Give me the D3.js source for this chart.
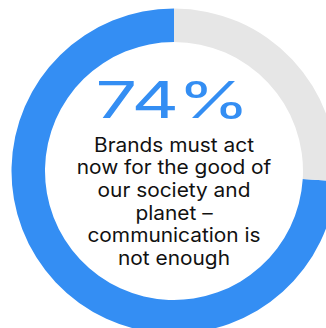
<!DOCTYPE html>
<html>
<head>
<meta charset="utf-8">
<script src="https://cdn.jsdelivr.net/npm/d3@7"></script>
<style>
  html, body { margin: 0; padding: 0; background: #fff; overflow: hidden; }
</style>
</head>
<body>
<div id="chart"></div>
<script>
const width = 326
const height = 328

// data
const categories = ["Agree", "Rest"]
const values = [74, 26]
const colors = ["#348ef3", "#e6e6e6"]
const headline = "74%"
const captionLines = [
  "Brands must act",
  "now for the good of",
  "our society and",
  "planet \u2013",
  "communication is",
  "not enough"
]

const cx = 174
const cy = 171
const outerR = 162.5
const innerR = 129

const svg = d3.select("#chart")
  .append("svg")
  .attr("width", width)
  .attr("height", height)

const g = svg.append("g")
  .attr("transform", `translate(${cx},${cy})`)

// blue share runs counter-clockwise from 12 o'clock, grey fills the rest
const angle = d3.scaleLinear()
  .domain([0, d3.sum(values)])
  .range([0, 2 * Math.PI])

const arcs = [
  { key: categories[0], startAngle: -angle(values[0]), endAngle: 0 },
  { key: categories[1], startAngle: 0, endAngle: angle(values[1]) }
]

const arcGen = d3.arc()
  .innerRadius(innerR)
  .outerRadius(outerR)

g.selectAll("path.slice")
  .data(arcs)
  .join("path")
  .attr("class", "slice")
  .attr("d", arcGen)
  .attr("fill", (d, i) => colors[i])

// wide display figure: stretch the glyphs instead of the spacing
const big = g.append("g")
const bigText = big.append("text")
  .attr("x", 0)
  .attr("y", 118 - cy)
  .attr("text-anchor", "middle")
  .attr("font-family", "Inter, 'DejaVu Sans', sans-serif")
  .attr("font-size", 51)
  .attr("font-weight", 400)
  .attr("fill", colors[0])
  .attr("letter-spacing", -1)
  .text(headline)
const natural = bigText.node().getComputedTextLength()
big.attr("transform", `translate(-2,0) scale(${153 / natural},1)`)

const caption = g.append("g")
  .attr("transform", "scale(1.07,1)")

caption.selectAll("text.caption")
  .data(captionLines)
  .join("text")
  .attr("class", "caption")
  .attr("x", 0)
  .attr("y", (d, i) => 151.5 + i * 22.7 - cy)
  .attr("text-anchor", "middle")
  .attr("font-family", "Inter, sans-serif")
  .attr("font-size", 19.5)
  .attr("fill", "#111")
  .text(d => d)
</script>
</body>
</html>
